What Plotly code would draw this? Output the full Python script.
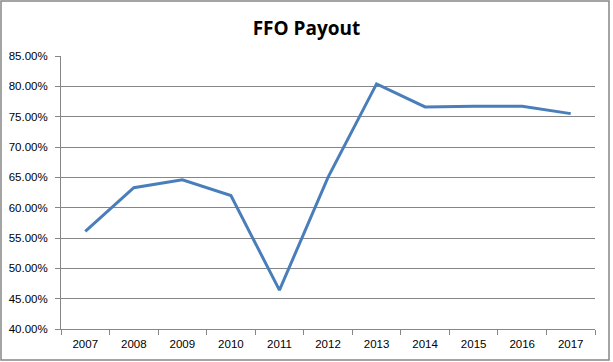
import plotly.graph_objects as go

years = ["2007", "2008", "2009", "2010", "2011", "2012", "2013", "2014", "2015", "2016", "2017"]
payout = [56.1, 63.3, 64.6, 62.0, 46.4, 65.0, 80.4, 76.6, 76.7, 76.7, 75.5]

W, H = 613, 362
L, R, T, B = 61, 18, 56, 33
pw, ph = W - L - R, H - T - B

fig = go.Figure()
fig.add_trace(go.Scatter(
    x=years, y=payout, mode="lines",
    line=dict(color="#4A7EBB", width=3),
    hoverinfo="skip",
))

fig.update_layout(
    width=W, height=H,
    margin=dict(l=L, r=R, t=T, b=B),
    paper_bgcolor="white", plot_bgcolor="white",
    showlegend=False,
    title=dict(text="<b>FFO Payout</b>", x=0.5, xref="container", xanchor="center",
               y=1 - 28 / H, yref="container", yanchor="middle",
               font=dict(family="Open Sans", size=19, color="black")),
    font=dict(family="Liberation Sans", size=11, color="black"),
    xaxis=dict(type="category", tickson="boundaries", ticks="outside", ticklen=5,
               range=[-0.5, len(years) - 0.5], automargin=False,
               tickcolor="#868686", showline=True, linecolor="#868686", linewidth=1,
               showgrid=False, tickfont=dict(size=11.5), ticklabelstandoff=4,
               fixedrange=True),
    yaxis=dict(range=[40, 85], dtick=5, ticksuffix="%", tickformat=".2f",
               automargin=False,
               showgrid=True, gridcolor="#868686", gridwidth=1,
               showline=True, linecolor="#868686", linewidth=1,
               ticks="outside", ticklen=5, tickcolor="#868686",
               ticklabelstandoff=5,
               zeroline=False, tickfont=dict(size=11.5), fixedrange=True),
    shapes=[dict(type="rect", xref="paper", yref="paper",
                 x0=(1 - L) / pw, x1=(609 - L) / pw,
                 y0=(H - B - 360) / ph, y1=(H - B - 1) / ph,
                 line=dict(color="#868686", width=1.5), fillcolor="rgba(0,0,0,0)",
                 layer="below")],
)

fig.write_html("out.html")
